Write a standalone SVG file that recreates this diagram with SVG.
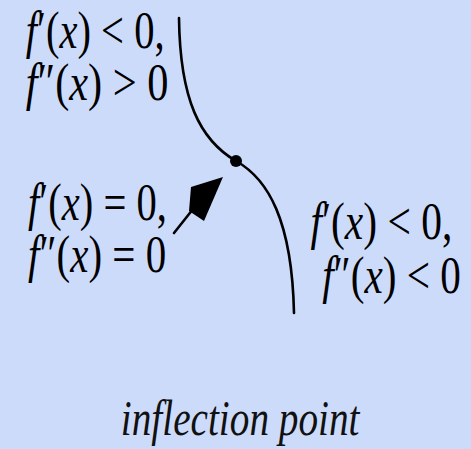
<svg xmlns="http://www.w3.org/2000/svg" width="471" height="449" viewBox="0 0 471 449">
<style>
.lbl{font-family:"Liberation Serif","Times New Roman",serif;font-size:52px;fill:#000}
.it{font-style:italic}
.cap{font-family:"Liberation Serif","Times New Roman",serif;font-size:50px;font-style:italic;fill:#111}
.crv{fill:none;stroke:#000;stroke-width:2.6;stroke-linecap:round}
</style>
<rect width="471" height="449" fill="#cddbfb"/>
<g id="curve">
<path class="crv" d="M179,18 C180,100 200,140 236,161 C268,179 292,220 294,313"/>
</g>
<g id="inflection-point">
<circle cx="236" cy="161" r="6" fill="#000"/>
</g>
<g id="label-top-left" transform="scale(0.78,1)">
<text class="lbl" x="33" y="48" textLength="178" lengthAdjust="spacingAndGlyphs"><tspan class="it">f</tspan>′(<tspan class="it">x</tspan>) &lt; 0,</text>
<text class="lbl" x="33" y="100" textLength="183" lengthAdjust="spacingAndGlyphs"><tspan class="it">f</tspan>″(<tspan class="it">x</tspan>) &gt; 0</text>
</g>
<g id="label-middle-left" transform="scale(0.78,1)">
<text class="lbl" x="36" y="220" textLength="178" lengthAdjust="spacingAndGlyphs"><tspan class="it">f</tspan>′(<tspan class="it">x</tspan>) = 0,</text>
<text class="lbl" x="36" y="272" textLength="177" lengthAdjust="spacingAndGlyphs"><tspan class="it">f</tspan>″(<tspan class="it">x</tspan>) = 0</text>
</g>
<g id="label-right" transform="scale(0.78,1)">
<text class="lbl" x="398" y="239" textLength="182" lengthAdjust="spacingAndGlyphs"><tspan class="it">f</tspan>′(<tspan class="it">x</tspan>) &lt; 0,</text>
<text class="lbl" x="413" y="293" textLength="178" lengthAdjust="spacingAndGlyphs"><tspan class="it">f</tspan>″(<tspan class="it">x</tspan>) &lt; 0</text>
</g>
<g id="caption" transform="scale(0.76,1)">
<text class="cap" x="159" y="435" textLength="314" lengthAdjust="spacingAndGlyphs">inflection point</text>
</g>
<g id="connectors">
<line x1="174" y1="233" x2="197" y2="204" stroke="#000" stroke-width="2.6" stroke-linecap="round"/>
<polygon points="223,177 191,187 189,211 204,221" fill="#000"/>
</g>
</svg>
